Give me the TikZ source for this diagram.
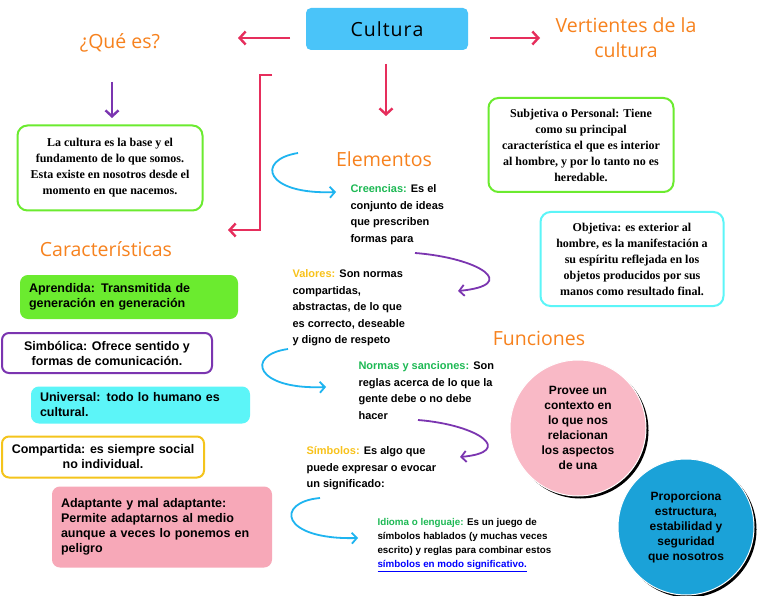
\documentclass[tikz,border=0pt]{standalone}
\usepackage{fontspec}
\setmainfont{Liberation Serif}
\setsansfont{Liberation Sans}
\newfontfamily\titlefont{Open Sans}
\usetikzlibrary{arrows.meta,shadows}
\definecolor{redarrow}{HTML}{E62E5C}
\definecolor{purplearrow}{HTML}{7B35B0}
\definecolor{bluearrow}{HTML}{1EB4F0}
\definecolor{titleorange}{HTML}{F7821E}
\definecolor{boxgreen}{HTML}{6BEB2F}
\definecolor{boxcyan}{HTML}{5CF5F8}
\definecolor{boxpink}{HTML}{F7A8B8}
\definecolor{boxyellow}{HTML}{F4C41C}
\definecolor{txtgreen}{HTML}{1DB954}
\definecolor{txtyellow}{HTML}{F8C21A}
\newcommand*{\lw}{2pt}
\tikzset{
	title/.style={
		font=\titlefont\fontsize{19.5}{25}\selectfont,
		text=titleorange,
		align=center
	},
	serifbox/.style={
		rounded corners=10pt,
		draw=#1,
		line width=\lw,
		align=center,
		font=\bfseries\fontsize{12}{16}\selectfont,
		inner sep=4pt
	},
	charbox/.style n args={3}{
		rounded corners=7pt,
		draw=#1,
		fill=#2,
		line width=\lw,
		align=#3,
		font=\sffamily\bfseries\fontsize{12.5}{15}\selectfont,
		inner xsep=8pt
	},
	elem/.style={
		anchor=north west,
		align=left,
		font=\sffamily\bfseries\fontsize{11}{16.5}\selectfont
	},
	bigarrow/.style={
		draw=#1,
		line width=2.4pt,
		-{Straight Barb[length=6pt,width=13pt]}
	},
	curl/.style={
		draw=#1,
		line width=1.8pt,
		-{Straight Barb[length=5pt,width=11pt]}
	},
	func/.style={
		circle,
		minimum size=136pt,
		draw=white,
		fill=#1,
		line width=1pt,
		align=center,
		font=\sffamily\bfseries\fontsize{12}{15}\selectfont,
		drop shadow={shadow xshift=2.5pt,shadow yshift=-2.5pt,fill=black,opacity=1}
	}
}
\begin{document}
\begin{tikzpicture}[x=1pt,y=-1pt]
	\useasboundingbox[fill=white] (0,0) rectangle (768,596);
	% centre
	\node (cultura) [rounded corners=5pt,fill=boxcyan!80!blue,minimum width=162pt,minimum height=42pt,
		font=\titlefont\fontsize{19.5}{22}\selectfont] at (387,29) {C\kern1pt u\kern1pt l\kern1pt t\kern1pt u\kern1pt r\kern1pt a};
	\node (quees) [title] at (120,43) {¿Qué es?};
	\node (vert) [title] at (626,38) {Vertientes de la\\cultura};
	\node (elem) [title] at (384,159) {Elementos};
	\node (carac) [title] at (106,249) {Características};
	\node (funcs) [title] at (539,338) {Funciones};
	\coordinate (qa) at (290,38);
	\coordinate (qb) at (238,38);
	\coordinate (va) at (490,38);
	\coordinate (vb) at (540,38);
	\coordinate (ea) at (386,64);
	\coordinate (eb) at (386,116);
	\draw[bigarrow=redarrow] (qa) -- (qb);
	\draw[bigarrow=redarrow] (va) -- (vb);
	\draw[bigarrow=redarrow] (ea) -- (eb);
	\coordinate (ka) at (272,75);
	\coordinate (kb) at (260,230);
	\coordinate (kc) at (228,230);
	\draw[bigarrow=redarrow] (ka) -- (260,75) -- (kb) -- (kc);
	\coordinate (pa) at (112,82);
	\coordinate (pb) at (112,118);
	\draw[bigarrow=purplearrow] (pa) -- (pb);
	% definitions
	\node (def) [serifbox=boxgreen,minimum width=185pt,minimum height=85pt] at (110,168)
		{La cultura es la base y el\\fundamento de lo que somos.\\Esta existe en nosotros desde el\\momento en que nacemos.};
	\node (subj) [serifbox=boxgreen,minimum width=185pt,minimum height=94pt] at (581,145)
		{Subjetiva o Personal: Tiene\\como su principal\\característica el que es interior\\al hombre, y por lo tanto no es\\heredable.};
	\node (obj) [serifbox=boxcyan,minimum width=183pt,minimum height=94pt] at (632,259)
		{Objetiva: es exterior al\\hombre, es la manifestación a\\su espíritu reflejada en los\\objetos producidos por sus\\manos como resultado final.};
	% characteristics
	\node (apr) [charbox={boxgreen}{boxgreen}{left},text width=200pt,minimum height=42pt,anchor=west] at (20,297)
		{Aprendida: Transmitida de\\generación en generación};
	\node (simb) [charbox={purplearrow}{white}{center},minimum width=210pt,minimum height=40pt] at (107,353)
		{Simbólica: Ofrece sentido y\\formas de comunicación.};
	\node (univ) [charbox={boxcyan}{boxcyan}{left},text width=201pt,minimum height=35pt,anchor=west] at (31,405)
		{Universal: todo lo humano es\\cultural.};
	\node (comp) [charbox={boxyellow}{white}{center},minimum width=202pt,minimum height=41pt] at (103,457)
		{Compartida: es siempre social\\no individual.};
	\node (adap) [charbox={boxpink}{boxpink}{left},text width=202pt,minimum height=79pt,anchor=west] at (52,527)
		{Adaptante y mal adaptante:\\Permite adaptarnos al medio\\aunque a veces lo ponemos en\\peligro};
	% elements
	\node (cree) [elem] at (347,181) {\textcolor{txtgreen}{Creencias:} Es el\\conjunto de ideas\\que prescriben\\formas para};
	\node (val) [elem] at (289,266) {\textcolor{txtyellow}{Valores:} Son normas\\compartidas,\\abstractas, de lo que\\es correcto, deseable\\y digno de respeto};
	\node (norm) [elem] at (355,358) {\textcolor{txtgreen}{Normas y sanciones:} Son\\reglas acerca de lo que la\\gente debe o no debe\\hacer};
	\node (simbolos) [elem] at (303,443) {\textcolor{txtyellow}{Símbolos:} Es algo que\\puede expresar o evocar\\un significado:};
	\node (idio) [elem,font=\sffamily\bfseries\fontsize{9.8}{14}\selectfont] at (374,515)
		{\textcolor{txtgreen}{Idioma o lenguaje:} Es un juego de\\símbolos hablados (y muchas veces\\escrito) y reglas para combinar estos\\\textcolor{blue}{\underline{símbolos en modo significativo.}}};
	% curls
	\coordinate (c1a) at (298,153);
	\coordinate (c1b) at (336,192);
	\draw[curl=bluearrow] (c1a) .. controls (255,160) and (265,195) .. (c1b);
	\coordinate (c2a) at (415,253);
	\coordinate (c2b) at (458,291);
	\draw[curl=purplearrow] (c2a) .. controls (480,258) and (520,285) .. (c2b);
	\coordinate (c3a) at (288,349);
	\coordinate (c3b) at (326,387);
	\draw[curl=bluearrow] (c3a) .. controls (245,355) and (255,390) .. (c3b);
	\coordinate (c4a) at (418,420);
	\coordinate (c4b) at (460,457);
	\draw[curl=purplearrow] (c4a) .. controls (480,425) and (515,452) .. (c4b);
	\coordinate (c5a) at (320,498);
	\coordinate (c5b) at (358,538);
	\draw[curl=bluearrow] (c5a) .. controls (275,502) and (280,540) .. (c5b);
	% functions
	\node (prov) [func=boxpink!80!white] at (578,428) {Provee un\\contexto en\\lo que nos\\relacionan\\los aspectos\\de una};
	\node (prop) [func=bluearrow!90!black] at (686,527) {Proporciona\\estructura,\\estabilidad y\\seguridad\\que nosotros};
\end{tikzpicture}
\end{document}
